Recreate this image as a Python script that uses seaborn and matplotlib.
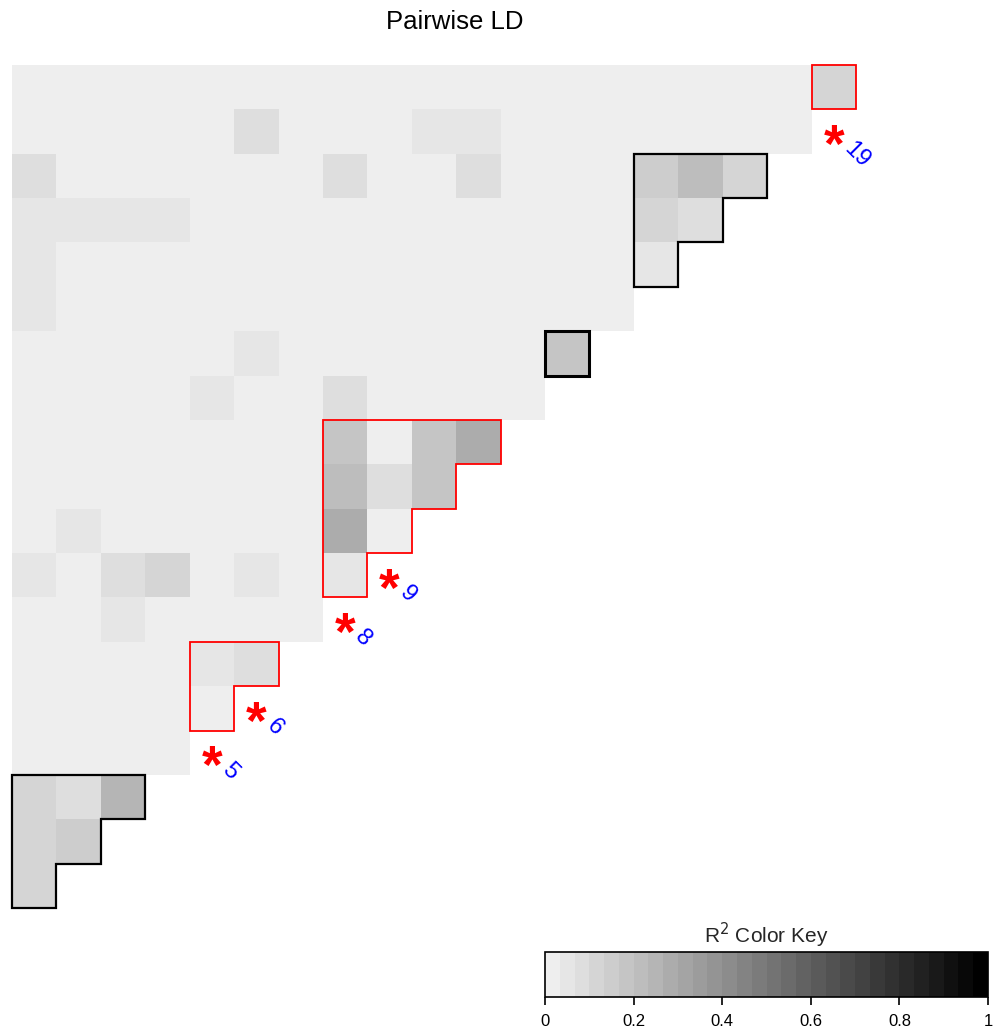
import numpy as np
import pandas as pd
import matplotlib
matplotlib.use("Agg")
import matplotlib.pyplot as plt
import seaborn as sns
from matplotlib.colors import ListedColormap
from matplotlib.patches import Polygon
from matplotlib.transforms import ScaledTranslation

sns.set_theme(style="white")
plt.rcParams["font.family"] = ["Liberation Sans", "DejaVu Sans"]

# ---------------------------------------------------------------------------
# Pairwise r^2 between 20 SNPs: each list holds r^2 of that SNP with SNP 1, 2, ...
# ---------------------------------------------------------------------------
r2_snp2 = [0.12]
r2_snp3 = [0.12, 0.15]
r2_snp4 = [0.12, 0.08, 0.25]
r2_snp5 = [0.01, 0.01, 0.01, 0.01]
r2_snp6 = [0.01, 0.01, 0.01, 0.01, 0.02]
r2_snp7 = [0.01, 0.01, 0.01, 0.01, 0.05, 0.08]
r2_snp8 = [0.01, 0.01, 0.05, 0.01, 0.01, 0.01, 0.01]
r2_snp9 = [0.05, 0.01, 0.08, 0.12, 0.01, 0.05, 0.01, 0.05]
r2_snp10 = [0.01, 0.05, 0.01, 0.01, 0.01, 0.01, 0.01, 0.28, 0.02]
r2_snp11 = [0.01, 0.01, 0.01, 0.01, 0.01, 0.01, 0.01, 0.22, 0.08, 0.18]
r2_snp12 = [0.01, 0.01, 0.01, 0.01, 0.01, 0.01, 0.01, 0.18, 0.02, 0.18, 0.28]
r2_snp13 = [0.01, 0.01, 0.01, 0.01, 0.05, 0.01, 0.01, 0.08, 0.01, 0.01, 0.01, 0.01]
r2_snp14 = [0.01, 0.01, 0.01, 0.01, 0.01, 0.05, 0.01, 0.01, 0.01, 0.01, 0.01, 0.01,
            0.18]
r2_snp15 = [0.05, 0.01, 0.01, 0.01, 0.01, 0.01, 0.01, 0.01, 0.01, 0.01, 0.01, 0.01,
            0.01, 0.01]
r2_snp16 = [0.05, 0.01, 0.01, 0.01, 0.01, 0.01, 0.01, 0.01, 0.01, 0.01, 0.01, 0.01,
            0.01, 0.01, 0.05]
r2_snp17 = [0.05, 0.05, 0.05, 0.05, 0.01, 0.01, 0.01, 0.01, 0.01, 0.01, 0.01, 0.01,
            0.01, 0.01, 0.12, 0.08]
r2_snp18 = [0.08, 0.01, 0.01, 0.01, 0.01, 0.01, 0.01, 0.08, 0.01, 0.01, 0.08, 0.01,
            0.01, 0.01, 0.15, 0.22, 0.12]
r2_snp19 = [0.01, 0.01, 0.01, 0.01, 0.01, 0.08, 0.01, 0.01, 0.01, 0.05, 0.05, 0.01,
            0.01, 0.01, 0.01, 0.01, 0.01, 0.01]
r2_snp20 = [0.01, 0.01, 0.01, 0.01, 0.01, 0.01, 0.01, 0.01, 0.01, 0.01, 0.01, 0.01,
            0.01, 0.01, 0.01, 0.01, 0.01, 0.01, 0.12]

# LD blocks (first SNP, last SNP) and the colour of their outline
block_start = [1, 5, 8, 13, 15, 19]
block_end = [4, 7, 12, 14, 18, 20]
block_color = ["black", "red", "red", "black", "black", "red"]
block_width = [1.6, 1.3, 1.3, 2.2, 1.6, 1.3]

# SNPs labelled along the diagonal
highlight_snps = [5, 6, 8, 9, 19]

key_ticks = [0, 0.2, 0.4, 0.6, 0.8, 1]
key_tick_labels = ["0", "0.2", "0.4", "0.6", "0.8", "1"]

n_snp = 20
n_colors = 30

# ---------------------------------------------------------------------------
# Build the triangular matrix: row 0 is SNP 20, column 0 is SNP 1
# ---------------------------------------------------------------------------
rows_by_snp = {
    2: r2_snp2, 3: r2_snp3, 4: r2_snp4, 5: r2_snp5, 6: r2_snp6, 7: r2_snp7,
    8: r2_snp8, 9: r2_snp9, 10: r2_snp10, 11: r2_snp11, 12: r2_snp12,
    13: r2_snp13, 14: r2_snp14, 15: r2_snp15, 16: r2_snp16, 17: r2_snp17,
    18: r2_snp18, 19: r2_snp19, 20: r2_snp20,
}
row_snps = list(range(n_snp, 1, -1))
col_snps = list(range(1, n_snp))
mat = np.full((len(row_snps), len(col_snps)), np.nan)
for r, snp in enumerate(row_snps):
    vals = rows_by_snp[snp]
    mat[r, :len(vals)] = vals
ld = pd.DataFrame(mat, index=row_snps, columns=col_snps)

levels = np.linspace(238, 0, n_colors) / 255.0
cmap = ListedColormap([(g, g, g) for g in levels])

W, H = 994, 1031
fig = plt.figure(figsize=(W / 100, H / 100), dpi=100)
ax = fig.add_axes([12 / W, 1 - 908 / H, 844 / W, 843 / H])
cax = fig.add_axes([545 / W, 1 - 997 / H, 443 / W, 45 / H])

sns.heatmap(ld, mask=ld.isna(), cmap=cmap, vmin=0, vmax=1, ax=ax,
            cbar=True, cbar_ax=cax, cbar_kws={"orientation": "horizontal"},
            xticklabels=False, yticklabels=False, linewidths=0)
ax.set_position([12 / W, 1 - 908 / H, 844 / W, 843 / H])
for s in ax.spines.values():
    s.set_visible(False)

# Block outlines as staircases
for a, b, col, lw in zip(block_start, block_end, block_color, block_width):
    c0 = a - 1
    r0 = n_snp - b
    m = b - a
    pts = [(c0, r0), (c0 + m, r0)]
    for k in range(1, m):
        pts.append((c0 + m - k + 1, r0 + k))
        pts.append((c0 + m - k, r0 + k))
    pts.append((c0 + 1, r0 + m))
    pts.append((c0, r0 + m))
    ax.add_patch(Polygon(pts, closed=True, fill=False, edgecolor=col,
                         linewidth=lw, joinstyle="miter", clip_on=False, zorder=5))

# Diagonal SNP labels
star_fs = 38
num_fs = 17
for snp in highlight_snps:
    cx = snp - 1 + 0.5
    cy = n_snp - snp + 0.5
    ax.text(cx, cy, "*", color="red", fontsize=star_fs, fontweight="bold",
            ha="center", va="baseline", clip_on=False,
            transform=ax.transData + ScaledTranslation(0, -0.58 * star_fs / 72,
                                                       fig.dpi_scale_trans))
    ax.text(cx + 0.3, cy + 0.32, str(snp), color="blue", fontsize=num_fs,
            rotation=-45, rotation_mode="anchor", ha="left", va="center",
            clip_on=False)

fig.text(455 / W, 1 - 22 / H, "Pairwise LD", fontsize=18.5, ha="center",
         va="center", color="black")

# Colour key
cbar = ax.collections[0].colorbar
cbar.set_ticks(key_ticks)
cbar.set_ticklabels(key_tick_labels)
cbar.outline.set_edgecolor("black")
cbar.outline.set_linewidth(1.2)
cax.tick_params(axis="x", direction="out", length=6, width=1.2, colors="black",
                labelsize=12, pad=6, bottom=True)
cax.set_title(r"R$^2$ Color Key", fontsize=15, pad=6)

fig.savefig("out.png", dpi=100, facecolor="white")
